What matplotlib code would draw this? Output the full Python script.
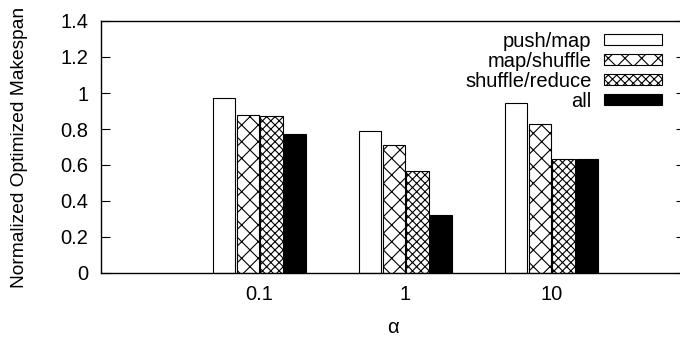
import numpy as np
import matplotlib.pyplot as plt

plt.rcParams['font.family'] = ['Liberation Sans', 'DejaVu Sans']
plt.rcParams['hatch.linewidth'] = 0.8

# makespan ratios for each alpha setting
alphas = ['0.1', '1', '10']
push_map = [0.97, 0.79, 0.945]
map_shuffle = [0.88, 0.71, 0.83]
shuffle_reduce = [0.875, 0.565, 0.635]
all_opt = [0.775, 0.325, 0.635]

series = [
    ('push/map', push_map, 'white', ''),
    ('map/shuffle', map_shuffle, 'white', 'xx'),
    ('shuffle/reduce', shuffle_reduce, 'white', 'xxxx'),
    ('all', all_opt, 'black', ''),
]

fs = 14.5

fig = plt.figure(figsize=(6.8, 3.37), dpi=100)
ax = fig.add_axes([101 / 680, 64 / 337, 584 / 680, 252 / 337])

x = np.arange(len(alphas))
slot = 0.163
for i, (name, vals, color, hatch) in enumerate(series):
    ax.bar(x + (i - 1.5) * slot, vals, width=slot * 0.93, color=color,
           edgecolor='black', linewidth=0.8, hatch=hatch, label=name)

ax.set_xlim(-1.086, 2.914)
ax.set_ylim(0, 1.4)
ax.set_yticks(np.arange(0, 1.41, 0.2))
ax.set_yticklabels(['0', '0.2', '0.4', '0.6', '0.8', '1', '1.2', '1.4'])
ax.set_xticks(x)
ax.set_xticklabels(alphas)
ax.tick_params(axis='x', length=0, pad=9, labelsize=fs)
ax.tick_params(axis='y', direction='in', length=6.5, right=True, width=0.8,
               labelsize=fs, pad=9)
for s in ax.spines.values():
    s.set_linewidth(1.0)

ax.set_xlabel('α', fontsize=fs)
ax.xaxis.set_label_coords(0.5, -0.18)
ax.set_ylabel('Normalized Optimized Makespan', fontsize=13.8)
ax.yaxis.set_label_coords(-0.125, 0.5)

ax.legend(loc='upper right', bbox_to_anchor=(662 / 680, 1 - 32 / 337),
          bbox_transform=fig.transFigure, frameon=False, markerfirst=False,
          fontsize=fs, handlelength=2.9, handleheight=0.45, handletextpad=0.6,
          labelspacing=0.05, borderpad=0, borderaxespad=0)

fig.savefig('out.png', dpi=100)
